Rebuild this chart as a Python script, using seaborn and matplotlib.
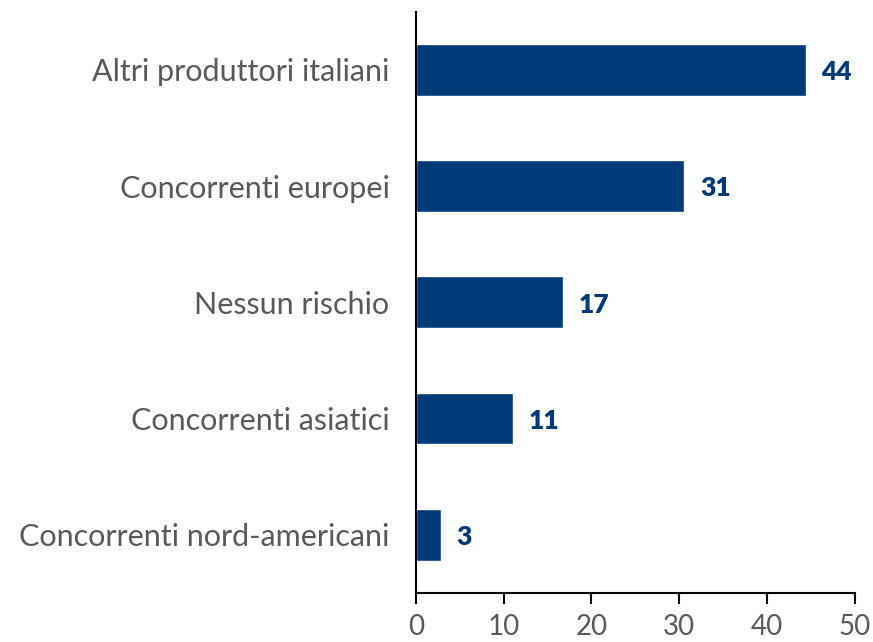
import matplotlib
matplotlib.use('Agg')
import matplotlib.pyplot as plt
import seaborn as sns
import pandas as pd

# data
categories = ['Altri produttori italiani', 'Concorrenti europei', 'Nessun rischio',
              'Concorrenti asiatici', 'Concorrenti nord-americani']
values = [44.4, 30.6, 16.7, 11.1, 2.8]
value_labels = ['44', '31', '17', '11', '3']
x_ticks = [0, 10, 20, 30, 40, 50]

navy = '#003A78'
grey = '#595959'

sns.set_style('white')
plt.rcParams['font.family'] = ['Lato', 'DejaVu Sans']

df = pd.DataFrame({'categoria': categories, 'valore': values})

fig = plt.figure(figsize=(8.73, 6.42), dpi=100)
ax = fig.add_axes([0.4765, 0.0763, 0.5025, 0.9055])
sns.barplot(data=df, x='valore', y='categoria', orient='h', color=navy,
            saturation=1, width=0.445, ax=ax)

for i, (v, lab) in enumerate(zip(values, value_labels)):
    ax.text(v + 1.8, i + 0.02, lab, va='center', ha='left', color=navy,
            fontsize=19, fontweight='heavy')

ax.set_xlim(0, 50)
ax.set_ylim(4.5, -0.5)
ax.set_xticks(x_ticks)
ax.set_xticklabels([str(t) for t in x_ticks])
ax.set_xlabel('')
ax.set_ylabel('')

for s in ['top', 'right']:
    ax.spines[s].set_visible(False)
for s in ['left', 'bottom']:
    ax.spines[s].set_color('black')
    ax.spines[s].set_linewidth(1.5)

ax.tick_params(axis='x', direction='out', length=8, width=1.5, color='black',
               labelsize=20, labelcolor=grey, pad=7, bottom=True)
ax.tick_params(axis='y', length=0, labelsize=22, labelcolor=grey, pad=19)

fig.savefig('out.png', dpi=100)
